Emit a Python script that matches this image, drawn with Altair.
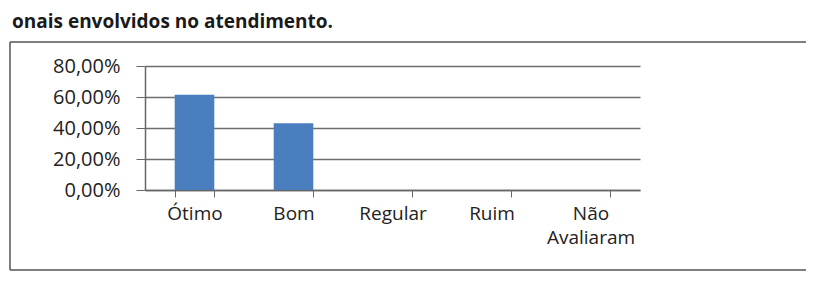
import altair as alt
import pandas as pd

categories = ["Ótimo", "Bom", "Regular", "Ruim", "Não Avaliaram"]
values = [0.615, 0.43, 0.0, 0.0, 0.0]
y_ticks = [0.0, 0.2, 0.4, 0.6, 0.8]
heading = "onais envolvidos no atendimento."

df = pd.DataFrame({"cat": categories, "val": values})

FONT = "Open Sans"

bars = alt.Chart(df).mark_bar(color="#4a7ebf").encode(
    x=alt.X(
        "cat:N",
        sort=categories,
        title=None,
        scale=alt.Scale(paddingInner=0.6, paddingOuter=0.3),
        axis=alt.Axis(
            labelAngle=0,
            labelFont=FONT,
            labelFontSize=19,
            labelColor="#222222",
            labelPadding=7,
            labelLineHeight=24,
            labelExpr="datum.label == 'Não Avaliaram' ? ['Não', 'Avaliaram'] : datum.label",
            tickBand="extent",
            tickSize=7,
            tickColor="#666666",
            domainColor="#666666",
            domainWidth=1.5,
            grid=False,
        ),
    ),
    y=alt.Y(
        "val:Q",
        title=None,
        scale=alt.Scale(domain=[0, 0.8], nice=False),
        axis=alt.Axis(
            values=y_ticks,
            labelExpr="replace(format(datum.value, '.2%'), '.', ',')",
            labelFont=FONT,
            labelFontSize=20,
            labelColor="#222222",
            labelPadding=16,
            tickSize=9,
            tickColor="#666666",
            domainColor="#666666",
            domainWidth=1.5,
            grid=True,
            gridColor="#6e6e6e",
            gridWidth=1.5,
        ),
    ),
)

# frame around the chart (left, top and bottom edges; right edge lies off the page)
frame_style = dict(color="#555555", strokeWidth=1.5)
frame_left = alt.Chart(alt.Data(values=[{}])).mark_rule(**frame_style).encode(
    x=alt.value(-135), y=alt.value(-24), y2=alt.value(204)
)
frame_top = alt.Chart(alt.Data(values=[{}])).mark_rule(**frame_style).encode(
    x=alt.value(-135), x2=alt.value(700), y=alt.value(-24)
)
frame_bottom = alt.Chart(alt.Data(values=[{}])).mark_rule(**frame_style).encode(
    x=alt.value(-135), x2=alt.value(700), y=alt.value(204)
)

title = alt.Chart(alt.Data(values=[{"t": heading}])).mark_text(
    align="left", baseline="alphabetic", font=FONT, fontSize=19,
    fontWeight="bold", color="#1a1a1a"
).encode(
    x=alt.value(-133), y=alt.value(-38), text="t:N"
)

chart = alt.layer(frame_left, frame_top, frame_bottom, title, bars).properties(
    width=495,
    height=124,
    autosize=alt.AutoSizeParams(type="none"),
    padding={"left": 137, "top": 58, "right": 166, "bottom": 83},
    background="white",
).configure_view(strokeWidth=0)

chart.save("out.html", embed_options={"renderer": "svg", "actions": False})
